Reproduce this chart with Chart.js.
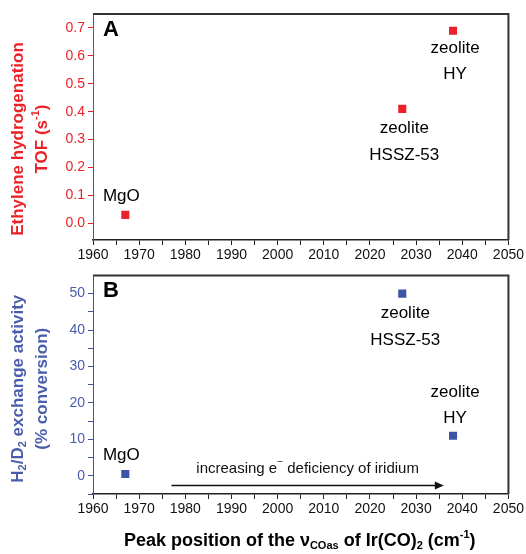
<!DOCTYPE html>
<html>
<head>
<meta charset="utf-8">
<script src="https://cdn.jsdelivr.net/npm/chart.js@4.4.0/dist/chart.umd.min.js"></script>
<style>
  body { margin: 0; background: #fff; }
  #wrap { position: relative; width: 526px; height: 554px; }
  .box { position: absolute; left: 0; width: 526px; }
  #boxA { top: 0; height: 264px; }
  #boxB { top: 264px; height: 290px; }
</style>
</head>
<body>
<div id="wrap">
  <div class="box" id="boxA"><canvas id="chartA"></canvas></div>
  <div class="box" id="boxB"><canvas id="chartB"></canvas></div>
</div>
<script>
// data
const supports = ['MgO', 'zeolite HSSZ-53', 'zeolite HY'];
const peakPos = [1967, 2027, 2038];          // cm-1
const tofValues = [0.03, 0.41, 0.69];        // s-1
const exchangeValues = [0.5, 50, 11];        // % conversion

const xTickLabels = [1960, 1970, 1980, 1990, 2000, 2010, 2020, 2030, 2040, 2050];
const tofTickLabels = [0.0, 0.1, 0.2, 0.3, 0.4, 0.5, 0.6, 0.7];
const exchTickLabels = [0, 10, 20, 30, 40, 50];

// arrow in panel B (data units)
const arrowFrom = 1977, arrowTo = 2036, arrowAt = -2.7;

const RED = '#ec2127';
const BLUE = '#3b54a5';
const BLUE_TXT = '#4a5dab';
const FONT = 'Arial, "Liberation Sans", sans-serif';

// where each label sits relative to its point (px)
const labelPosA = [{dx: -4, dy: [-19]}, {dx: 2, dy: [19, 46]}, {dx: 2, dy: [18, 44]}];
const labelPosB = [{dx: -4, dy: [-19]}, {dx: 3, dy: [20, 47]}, {dx: 2, dy: [-43, -17]}];

function withMinors(majors) {
  let out = [];
  for (let i = 0; i < majors.length; i++) {
    out.push(majors[i]);
    if (i < majors.length - 1) out.push((majors[i] + majors[i + 1]) / 2);
  }
  return out;
}
function isMajor(v, majors) {
  return majors.some(m => Math.abs(m - v) < 1e-9);
}

function drawRich(ctx, parts, x, y, size, color, rotate) {
  ctx.save();
  ctx.translate(x, y);
  if (rotate) ctx.rotate(-Math.PI / 2);
  ctx.fillStyle = color;
  ctx.textBaseline = 'middle';
  ctx.textAlign = 'left';
  let widths = parts.map(p => {
    ctx.font = 'bold ' + (p[1] ? Math.round(size * 0.62) : size) + 'px ' + FONT;
    return ctx.measureText(p[0]).width;
  });
  let total = widths.reduce((a, b) => a + b, 0);
  let cx = -total / 2;
  parts.forEach((p, i) => {
    ctx.font = 'bold ' + (p[1] ? Math.round(size * 0.62) : size) + 'px ' + FONT;
    let dy = p[1] === 'sub' ? size * 0.3 : p[1] === 'sup' ? -size * 0.35 : 0;
    ctx.fillText(p[0], cx, dy);
    cx += widths[i];
  });
  ctx.restore();
}

function panelPlugin(cfg) {
  return {
    id: 'panel' + cfg.letter,
    afterDraw(chart) {
      const ctx = chart.ctx;
      const a = chart.chartArea;
      const xs = chart.scales.x, ys = chart.scales.y;
      ctx.save();
      // top and right frame
      ctx.strokeStyle = '#333';
      ctx.lineWidth = 2;
      ctx.beginPath();
      ctx.moveTo(a.left, a.top);
      ctx.lineTo(a.right, a.top);
      ctx.lineTo(a.right, a.bottom);
      ctx.stroke();
      // panel letter
      ctx.fillStyle = '#000';
      ctx.font = 'bold 22px ' + FONT;
      ctx.textAlign = 'left';
      ctx.textBaseline = 'middle';
      ctx.fillText(cfg.letter, a.left + 10, a.top + 16);
      // point labels
      ctx.font = '17px ' + FONT;
      ctx.textAlign = 'center';
      supports.forEach((name, i) => {
        const px = xs.getPixelForValue(peakPos[i]);
        const py = ys.getPixelForValue(cfg.values[i]);
        const sp = name.indexOf(' ');
        const lines = sp > 0 ? [name.slice(0, sp), name.slice(sp + 1)] : [name];
        lines.forEach((ln, k) => {
          ctx.fillText(ln, px + cfg.labelPos[i].dx, py + cfg.labelPos[i].dy[k]);
        });
      });
      // y title
      drawRich(ctx, cfg.yTitle[0], 18, (a.top + a.bottom) / 2 + cfg.titleShift, 17, cfg.color, true);
      drawRich(ctx, cfg.yTitle[1], 42, (a.top + a.bottom) / 2 + cfg.titleShift, 17, cfg.color, true);
      if (cfg.extra) cfg.extra(chart, ctx, a, xs, ys);
      ctx.restore();
    }
  };
}

function makeChart(id, values, color, tickColor, yMin, yMax, yMajors, fmt, padTop, xHeight, plugin) {
  return new Chart(document.getElementById(id), {
    type: 'scatter',
    data: {
      datasets: [{
        data: peakPos.map((x, i) => ({x: x, y: values[i]})),
        pointStyle: 'rect',
        pointRadius: 5.7,
        pointHoverRadius: 5.7,
        backgroundColor: color,
        borderWidth: 0
      }]
    },
    options: {
      responsive: true,
      maintainAspectRatio: false,
      animation: false,
      layout: {padding: {left: 0, right: 17, top: padTop, bottom: 0}},
      plugins: {legend: {display: false}, tooltip: {enabled: false}},
      scales: {
        x: {
          type: 'linear',
          min: 1960, max: 2050,
          afterBuildTicks: s => { s.ticks = withMinors(xTickLabels).map(v => ({value: v})); },
          afterFit: s => { s.height = xHeight; },
          border: {color: '#222', width: 1.5},
          grid: {drawOnChartArea: false, drawTicks: true, tickLength: 5, color: '#222'},
          ticks: {
            autoSkip: false, maxRotation: 0, padding: 2,
            color: '#111', font: {size: 14, family: FONT},
            callback: v => isMajor(v, xTickLabels) ? String(v) : ''
          }
        },
        y: {
          min: yMin, max: yMax,
          afterBuildTicks: s => { s.ticks = withMinors(yMajors).concat([yMajors[0] - (yMajors[1] - yMajors[0]) / 2]).map(v => ({value: v})); },
          afterFit: s => { s.width = 93; },
          border: {color: color, width: 1},
          grid: {drawOnChartArea: false, drawTicks: true, tickLength: 5, color: color},
          ticks: {
            padding: 3,
            color: tickColor, font: {size: 14, family: FONT},
            callback: v => isMajor(v, yMajors) ? fmt(v) : ''
          }
        }
      }
    },
    plugins: [plugin]
  });
}

makeChart('chartA', tofValues, RED, RED, -0.06, 0.75, tofTickLabels, v => v.toFixed(1), 14, 24,
  panelPlugin({
    letter: 'A', values: tofValues, labelPos: labelPosA, color: RED, titleShift: 12,
    yTitle: [[['Ethylene hydrogenation']], [['TOF (s'], ['-1', 'sup'], [')']]]
  }));

makeChart('chartB', exchangeValues, BLUE, BLUE_TXT, -5, 55, exchTickLabels, v => String(v), 5, 60,
  panelPlugin({
    letter: 'B', values: exchangeValues, labelPos: labelPosB, color: BLUE_TXT, titleShift: 4,
    yTitle: [[['H'], ['2', 'sub'], ['/D'], ['2', 'sub'], [' exchange activity']], [['(% conversion)']]],
    extra: (chart, ctx, a, xs, ys) => {
      const x1 = xs.getPixelForValue(arrowFrom), x2 = xs.getPixelForValue(arrowTo);
      const y = ys.getPixelForValue(arrowAt);
      ctx.strokeStyle = '#111';
      ctx.fillStyle = '#111';
      ctx.lineWidth = 1.5;
      ctx.beginPath();
      ctx.moveTo(x1, y);
      ctx.lineTo(x2 - 8, y);
      ctx.stroke();
      ctx.beginPath();
      ctx.moveTo(x2, y);
      ctx.lineTo(x2 - 9, y - 4);
      ctx.lineTo(x2 - 9, y + 4);
      ctx.closePath();
      ctx.fill();
      // caption above the arrow
      ctx.font = '15px ' + FONT;
      ctx.textBaseline = 'middle';
      ctx.textAlign = 'left';
      const t1 = 'increasing e', t2 = ' deficiency of iridium';
      const w1 = ctx.measureText(t1).width, w2 = ctx.measureText(t2).width;
      ctx.font = '10px ' + FONT;
      const ws = ctx.measureText('\u2212').width;
      const cx = (x1 + x2) / 2 - (w1 + ws + w2) / 2;
      const cy = y - 17;
      ctx.font = '15px ' + FONT;
      ctx.fillText(t1, cx, cy);
      ctx.font = '10px ' + FONT;
      ctx.fillText('\u2212', cx + w1, cy - 6);
      ctx.font = '15px ' + FONT;
      ctx.fillText(t2, cx + w1 + ws, cy);
      // x axis title
      drawRich(ctx, [['Peak position of the \u03bd'], ['COas', 'sub'], [' of Ir(CO)'], ['2', 'sub'], [' (cm'], ['-1', 'sup'], [')']],
        (a.left + a.right) / 2 - 1, chart.height - 13, 18, '#000', false);
    }
  }));
</script>
</body>
</html>
